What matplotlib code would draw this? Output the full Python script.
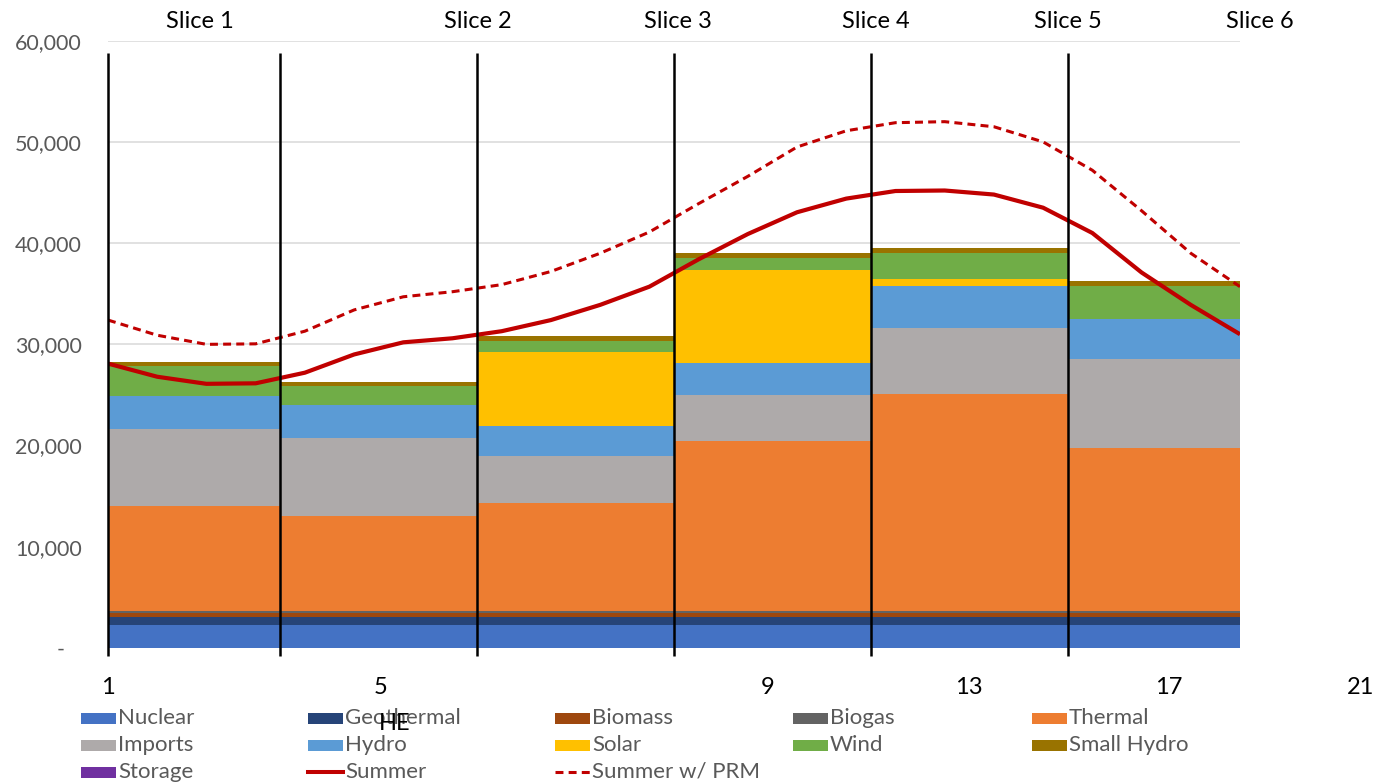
import numpy as np
import matplotlib
matplotlib.use("Agg")
import matplotlib.pyplot as plt
from matplotlib import transforms
from matplotlib.patches import Rectangle
from matplotlib.lines import Line2D

plt.rcParams['font.family'] = ['Lato', 'DejaVu Sans']

# Hour-ending axis and the six time slices
hours = np.arange(1, 25)
slice_edges = [1, 4.5, 8.5, 12.5, 16.5, 20.5, 24]
slice_names = ["Slice 1", "Slice 2", "Slice 3", "Slice 4", "Slice 5", "Slice 6"]
hour_tick_labels = ["1", "5", "9", "13", "17", "21"]

# Resource stack per slice (MW)
nuclear = [2240, 2240, 2240, 2240, 2240, 2240]
geothermal = [850, 850, 850, 850, 850, 850]
biomass = [400, 400, 400, 400, 400, 400]
biogas = [200, 200, 200, 200, 200, 200]
thermal = [10370, 9380, 10640, 16800, 21410, 16100]
imports = [7580, 7650, 4670, 4510, 6550, 8770]
hydro = [3290, 3290, 2940, 3130, 4150, 3950]
solar = [0, 0, 7340, 9190, 630, 0]
wind = [2940, 1910, 1090, 1250, 2630, 3290]
small_hydro = [360, 400, 460, 430, 440, 500]
storage = [0, 0, 0, 0, 0, 0]

# Hourly load (MW)
summer = [28100, 26800, 26100, 26150, 27200, 29000, 30200, 30600,
          31300, 32400, 33900, 35700, 38400, 40900, 43050, 44400,
          45150, 45200, 44800, 43500, 41000, 37100, 33900, 31000]
summer_prm = [32400, 30900, 30000, 30050, 31300, 33400, 34700, 35200,
              35900, 37200, 39000, 41100, 43900, 46600, 49500, 51100,
              51900, 52000, 51500, 50000, 47200, 43200, 39000, 35700]

stack_names = ["Nuclear", "Geothermal", "Biomass", "Biogas", "Thermal",
               "Imports", "Hydro", "Solar", "Wind", "Small Hydro", "Storage"]
stack_values = [nuclear, geothermal, biomass, biogas, thermal,
                imports, hydro, solar, wind, small_hydro, storage]
stack_colors = ["#4472C4", "#264478", "#9E480E", "#636363", "#ED7D31",
                "#AEAAAA", "#5B9BD5", "#FFC000", "#70AD47", "#997300", "#7030A0"]
load_color = "#C00000"

W, H = 1382, 783
fig = plt.figure(figsize=(W / 100, H / 100), dpi=100)
ax = fig.add_axes([108 / W, 1 - 648 / H, (1240 - 108) / W, (648 - 40.7) / H])

# stepped stack: repeat last slice value so the final slice reaches hour 24
ys = [list(v) + [v[-1]] for v in stack_values]
ax.stackplot(slice_edges, ys, colors=stack_colors, step='post',
             linewidth=0, edgecolor='none', zorder=2)

ax.plot(hours, summer, color=load_color, lw=3.0, solid_joinstyle='round',
        solid_capstyle='butt', zorder=4)
ax.plot(hours, summer_prm, color=load_color, lw=2.2, ls=(0, (2.6, 1.7)),
        zorder=4)

# slice boundaries
ax.vlines(slice_edges[:-1], -750, 58800, colors='black', lw=1.8,
          clip_on=False, zorder=5)

ax.set_xlim(1, 24)
ax.set_ylim(0, 60000)
yt = list(range(0, 60001, 10000))
ax.set_yticks(yt)
ax.set_yticklabels(["-   "] + [f"{v:,}" for v in yt[1:]])
ax.tick_params(axis='y', length=0, pad=19, labelsize=15.5, labelcolor='#595959')
ax.set_xticks([])
ax.grid(axis='y', color='#D9D9D9', lw=1.1, zorder=0)
ax.set_axisbelow(True)
for s in ax.spines.values():
    s.set_visible(False)

blend = transforms.blended_transform_factory(ax.transData, fig.transFigure)

# slice titles
slice_label_x = [2.87, 8.52, 12.57, 16.61, 20.51, 24.41]
for name, xh in zip(slice_names, slice_label_x):
    ax.text(xh, 1 - 22 / H, name, transform=blend, ha='center', va='center',
            fontsize=17, color='black', clip_on=False)

# hour-ending labels
hour_label_x = [1.0, 6.53, 14.4, 18.5, 22.55, 26.45]
for lab, xh in zip(hour_tick_labels, hour_label_x):
    ax.text(xh, 1 - 688 / H, lab, transform=blend, ha='center', va='center',
            fontsize=17, color='black', clip_on=False)

fig.text(395 / W, 1 - 723 / H, "HE", ha='center', va='center', fontsize=17,
         color='black', zorder=10)

# legend laid out row by row
legend_items = [(n, ('patch', c)) for n, c in zip(stack_names, stack_colors)]
legend_items += [("Summer", ('line', '-')), ("Summer w/ PRM", ('line', '--'))]
col_x = [81, 308, 555, 793, 1032]
row_y = [718, 745, 772]
for i, (name, (kind, style)) in enumerate(legend_items):
    r, c = divmod(i, 5)
    x0 = col_x[c]
    yc = row_y[r]
    if kind == 'patch':
        fig.patches.append(Rectangle((x0 / W, 1 - (yc + 5.5) / H), 35 / W, 11 / H,
                                     transform=fig.transFigure, facecolor=style,
                                     edgecolor='none'))
    else:
        if style == '-':
            ln = Line2D([x0 / W, (x0 + 35) / W], [1 - yc / H] * 2, color=load_color,
                        lw=2.9, transform=fig.transFigure)
        else:
            ln = Line2D([x0 / W, (x0 + 35) / W], [1 - yc / H] * 2, color=load_color,
                        lw=2.2, ls=(0, (2.6, 1.7)), transform=fig.transFigure)
        fig.lines.append(ln)
    fig.text((x0 + 37) / W, 1 - yc / H, name, ha='left', va='center',
             fontsize=16, color='#595959')

fig.savefig("out.png", dpi=100)
